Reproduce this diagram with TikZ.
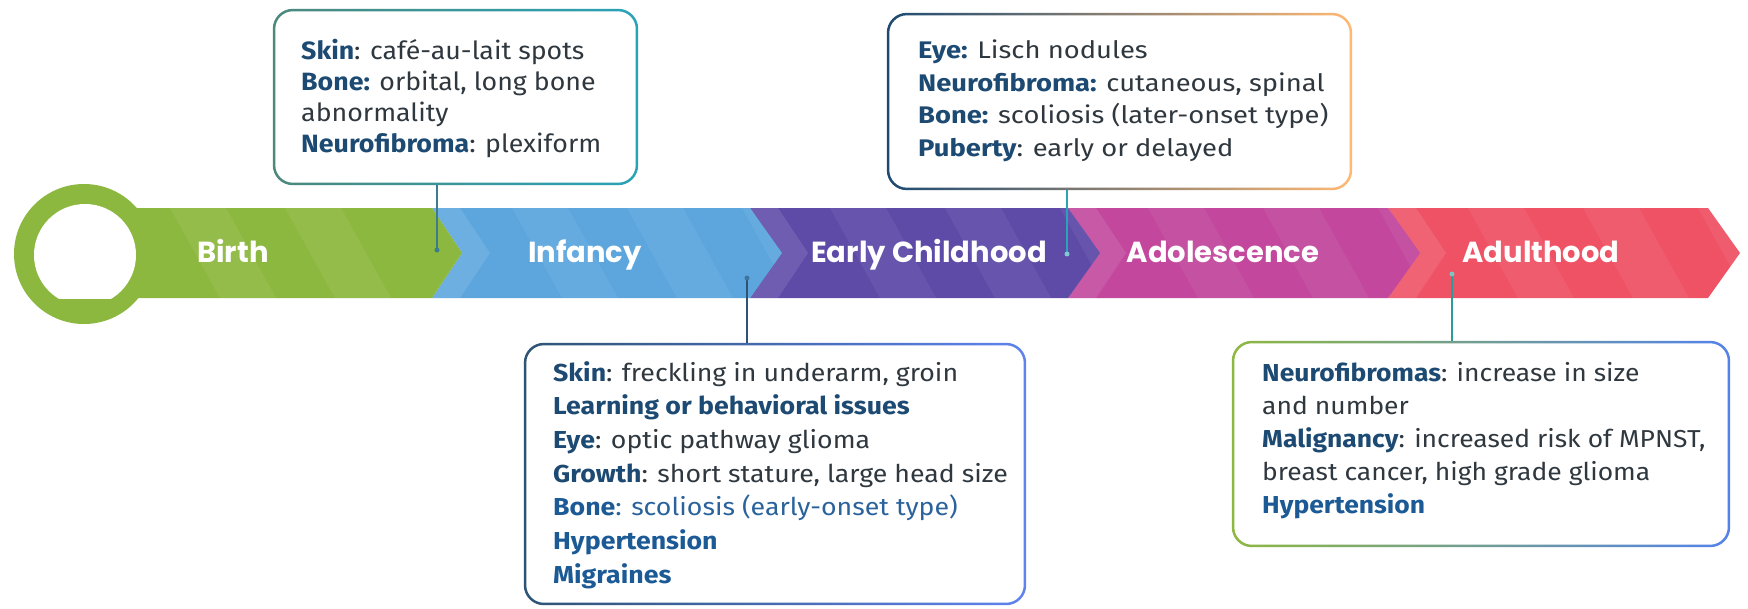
\documentclass[tikz,border=0pt]{standalone}
\usepackage{fontspec}
\setmainfont{Fira Sans}
\newfontfamily\fA{Fira Sans}[FakeStretch=1.07]
\newfontfamily\fB{Fira Sans}[FakeStretch=1.14]
\newfontfamily\fC{Fira Sans}[FakeStretch=1.09]
\newfontfamily\fD{Fira Sans}[FakeStretch=1.08]
\newfontfamily\barfont{Poppins}
\usetikzlibrary{calc}
\definecolor{gr}{HTML}{8DB840}
\definecolor{bl}{HTML}{5CA6DD}
\definecolor{pu}{HTML}{5E4BA8}
\definecolor{mg}{HTML}{C2479D}
\definecolor{rd}{HTML}{EF5265}
\definecolor{labblue}{HTML}{1D4A72}
\definecolor{labblueb}{HTML}{1C5A96}
\definecolor{txtgray}{HTML}{30383F}
\definecolor{txtblue}{HTML}{2A639C}
\definecolor{cA}{HTML}{3B7D8C}
\definecolor{cB}{HTML}{2AA3B8}
\definecolor{cC}{HTML}{2E5475}
\definecolor{cD}{HTML}{2A9C9A}
\newcommand\lbl[1]{\textcolor{labblue}{\bfseries #1}}
\newcommand\lblb[1]{\textcolor{labblueb}{\bfseries #1}}
\newcommand\tlseg[3]{%
  \begin{scope}
    \clip (#1,208) -- (#2,208) -- ($(#2,253)+(32,0)$) -- (#2,298) -- (#1,298) -- ($(#1,253)+(30,0)$) -- cycle;
    \fill[#3] (#1,200) rectangle ($(#2,306)+(40,0)$);
    \foreach \s in {20,135,250} {
      \fill[white,opacity=.06] ($(#1,208)+(\s+60,0)$) -- ++(56,0) -- ++(50,90) -- ++(-56,0) -- cycle;
    }
    \fill[white,opacity=.1] (#1,208) -- ++(28,0) -- ++(30,45) -- ++(-30,45) -- ++(-28,0) -- ++(30,-45) -- cycle;
  \end{scope}}
\begin{document}
\begin{tikzpicture}[x=1pt,y=-1pt,
  seglab/.style={font=\barfont\bfseries\fontsize{29}{32}\selectfont, text=white, inner sep=0pt, anchor=base},
  boxtxt/.style={anchor=north west, inner sep=0pt, align=left, text=txtgray},
  boxframe/.style={inner sep=0pt, fill=white},
  conn/.style={line width=2.2pt},
  enddot/.style={circle, inner sep=0pt, minimum size=5pt}
]
\useasboundingbox (0,0) rectangle (1748,608);
\fill[white] (0,0) rectangle (1748,608);

% timeline bar
\tlseg{1388}{1708}{rd}
\tlseg{1068}{1388}{mg}
\tlseg{750}{1068}{pu}
\tlseg{432}{750}{bl}
\begin{scope}
  \clip (84,208) -- (432,208) -- (462,253) -- (432,298) -- (84,298) -- cycle;
  \fill[gr] (80,200) rectangle (470,306);
  \foreach \s in {170,285} {
    \fill[white,opacity=.06] (\s,208) -- ++(56,0) -- ++(50,90) -- ++(-56,0) -- cycle;
  }
\end{scope}

% ring
\fill[gr] (84,254) circle (70);
\begin{scope}
  \clip (0,150) rectangle (200,298);
  \fill[white] (85,255) circle (51);
\end{scope}

% bar labels
\node[seglab] (lb1) at (233,262) {Birth};
\node[seglab] (lb2) at (585,262) {Infancy};
\node[seglab] (lb3) at (929,262) {Early Childhood};
\node[seglab] (lb4) at (1223,262) {Adolescence};
\node[seglab] (lb5) at (1541,262) {Adulthood};

% box frames
\node[boxframe, minimum width=365pt, minimum height=176pt] (f1) at (455.5,97) {};
\node[boxframe, minimum width=465pt, minimum height=177pt] (f2) at (1119.5,101.5) {};
\node[boxframe, minimum width=502pt, minimum height=262pt] (f3) at (775,474) {};
\node[boxframe, minimum width=498pt, minimum height=206pt] (f4) at (1481,444) {};

\shade[left color=cA!80!gr, right color=cB, even odd rule]
  [rounded corners=20pt] (f1.south west) rectangle (f1.north east)
  [rounded corners=17.5pt] ($(f1.south west)+(2.5,-2.5)$) rectangle ($(f1.north east)+(-2.5,2.5)$);
\shade[left color=labblue, middle color=cB, right color=orange!55!white, even odd rule]
  [rounded corners=20pt] (f2.south west) rectangle (f2.north east)
  [rounded corners=17.5pt] ($(f2.south west)+(2.5,-2.5)$) rectangle ($(f2.north east)+(-2.5,2.5)$);
\shade[left color=cC, right color=bl!60!blue!80!white, even odd rule]
  [rounded corners=20pt] (f3.south west) rectangle (f3.north east)
  [rounded corners=17.5pt] ($(f3.south west)+(2.5,-2.5)$) rectangle ($(f3.north east)+(-2.5,2.5)$);
\shade[left color=gr, right color=bl!70!blue!90!white, even odd rule]
  [rounded corners=20pt] (f4.south west) rectangle (f4.north east)
  [rounded corners=17.5pt] ($(f4.south west)+(2.5,-2.5)$) rectangle ($(f4.north east)+(-2.5,2.5)$);

% box texts
\node[boxtxt, font=\fA\fontsize{25}{31}\selectfont] (t1) at (301,39) {%
  \lbl{Skin}: café-au-lait spots\\
  \lbl{Bone:} orbital, long bone\\
  abnormality\\
  \lbl{Neurofibroma}: plexiform};
\node[boxtxt, font=\fB\fontsize{24}{32.5}\selectfont] (t2) at (918,40) {%
  \lbl{Eye:} Lisch nodules\\
  \lbl{Neurofibroma:} cutaneous, spinal\\
  \lbl{Bone:} scoliosis (later-onset type)\\
  \lbl{Puberty}: early or delayed};
\node[boxtxt, font=\fC\fontsize{24.5}{33.7}\selectfont] (t3) at (553,361) {%
  \lbl{Skin}: freckling in underarm, groin\\
  \lbl{Learning or behavioral issues}\\
  \lbl{Eye}: optic pathway glioma\\
  \lbl{Growth}: short stature, large head size\\
  \lblb{Bone}\textcolor{txtblue}{: scoliosis (early-onset type)}\\
  \lblb{Hypertension}\\
  \lblb{Migraines}};
\node[boxtxt, font=\fD\fontsize{24.5}{33}\selectfont] (t4) at (1262,362) {%
  \lbl{Neurofibromas}: increase in size\\
  and number\\
  \lbl{Malignancy}: increased risk of MPNST,\\
  breast cancer, high grade glioma\\
  \lblb{Hypertension}};

% connectors
\coordinate (c1) at (437,250);
\coordinate (c2) at (1067,254);
\coordinate (c3) at (747,278);
\coordinate (c4) at (1452,274);
\draw[conn, cA] (f1.south -| c1) -- (c1);
\draw[conn, cB] (f2.south -| c2) -- (c2);
\draw[conn, cC] (f3.north -| c3) -- (c3);
\draw[conn, cD] (f4.north -| c4) -- (c4);
\node[enddot, fill=cA] (d1) at (c1) {};
\node[enddot, fill=cB!60!white] (d2) at (c2) {};
\node[enddot, fill=cC!60!bl] (d3) at (c3) {};
\node[enddot, fill=cD!60!white] (d4) at (c4) {};
\end{tikzpicture}
\end{document}
